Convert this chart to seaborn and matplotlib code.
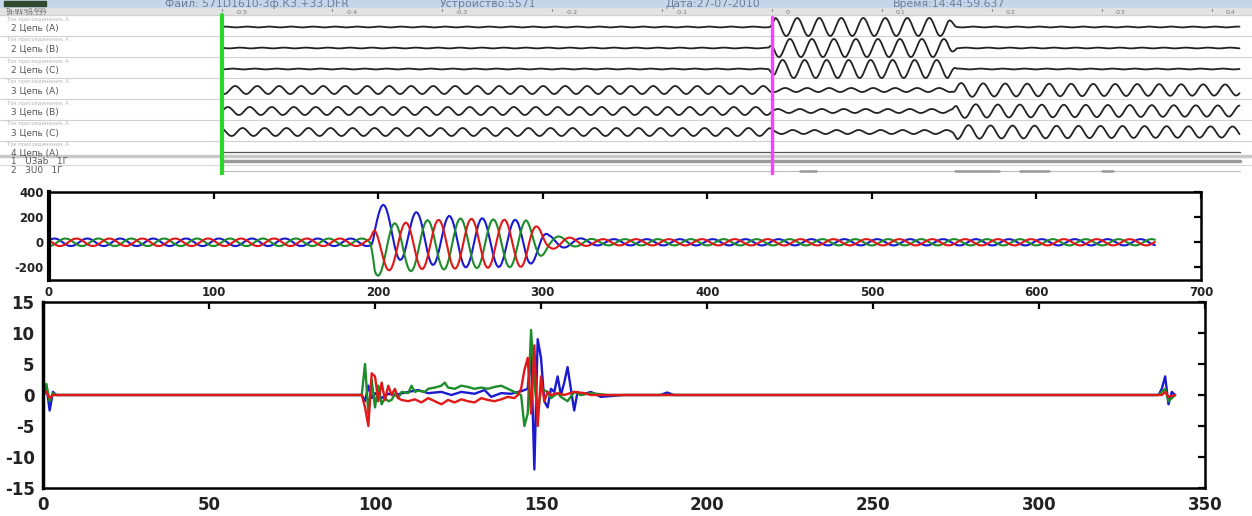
import numpy as np
import pandas as pd
import matplotlib
matplotlib.use("Agg")
import matplotlib.pyplot as plt
import seaborn as sns

sns.set_theme(style="white")
plt.rcParams['font.family'] = ['DejaVu Sans']
plt.rcParams['axes.unicode_minus'] = False

# ---------------------------------------------------------------- data
# --- top panel: oscillogram viewer (time in ms, 0 = green cursor)
top_title = ["Файл: 571D1610-3ф.КЗ.+33.DFR", "Устройство:5571",
             "Дата:27-07-2010", "Время:14:44:59.637"]
top_title_px = [165, 440, 665, 893]
top_hdr_left = ["Тк,мс=0.600", "14:44:59.137"]
top_tick_ms = [0, 100, 200, 300, 400, 500, 600, 700, 800, 900]
top_tick_lbl = ["-0.5", "-0.4", "-0.3", "-0.2", "-0.1", "0", "0.1", "0.2", "0.3", "0.4"]
top_rows = ["2 Цепь (A)", "2 Цепь (B)", "2 Цепь (C)",
            "3 Цепь (A)", "3 Цепь (B)", "3 Цепь (C)",
            "4 Цепь (A)", "1   U3ab   1Г", "2   3U0   1Г"]
top_row_sub = "Ток присоединения, А"
top_cursor_green_ms = 0
top_cursor_magenta_ms = 500
top_end_ms = 925
top_period_ms = 20
# envelope breakpoints (ms) and amplitudes (px)
top_c2_env_t = [0, 497, 503, 660, 668, 925]
top_c2_env_amp = [0.4, 0.4, 9.0, 9.0, 0.4, 0.4]
top_c2_peak_ms = [523.0, 516.3, 509.7]
top_c3_env_t = [0, 498, 502, 664, 668, 700, 925]
top_c3_env_amp = [4.0, 4.0, 2.0, 2.0, 7.0, 6.5, 5.5]
top_c3_peak_ms = [512.0, 505.3, 518.7]
top_3u0_bars_ms = [(525, 540), (666, 706), (725, 752), (800, 810)]

# --- middle chart: three-phase current (20 samples per cycle)
mid_last_sample = 672
mid_period = 20
mid_env_n = [0, 195, 198, 220, 250, 290, 298, 304, 318, 332, 672]
mid_A_amp = [30, 30, 200, 205, 200, 185, 120, 55, 35, 25, 25]
mid_A_dc = [0, 0, 115, 40, 0, -10, -10, 0, 0, 0, 0]
mid_B_amp = [30, 30, 200, 200, 200, 185, 120, 55, 35, 25, 25]
mid_B_dc = [0, 0, -70, -30, -10, -10, -5, 0, 0, 0, 0]
mid_C_amp = [30, 30, 170, 190, 200, 185, 120, 55, 35, 25, 25]
mid_C_dc = [0, 0, -60, -25, -10, -10, -5, 0, 0, 0, 0]
mid_peak_sample = {"A": 203.3, "B": 210.0, "C": 196.7}

# --- bottom chart: detail signal
bot_A_x = [0, 1, 2, 3, 4, 96, 97, 98, 99, 100, 102, 104, 106, 110, 113, 116, 120, 123,
           126, 130, 133, 135, 138, 141, 144, 146, 147, 148, 149, 150, 151, 152, 153,
           154, 155, 156, 157, 158, 159, 160, 161, 162, 165, 168, 175, 186, 188, 190,
           336, 337, 338, 339, 340, 341]
bot_A_y = [0, 1.5, -2.5, 0.5, 0, 0, -1, 1.5, -0.5, 0.3, -0.5, 0.2, 0, 0.5, 0.8, 0.3,
           0.5, 0, 0.5, 0.2, 0.8, -0.3, 0.3, 0.2, 0.6, 1, 7, -12, 9, 6, -1, -2, 1,
           0.5, 3, 0, 2, 4.5, 1, -2.5, 0.5, 0, 0.5, -0.3, 0, 0, 0.4, 0,
           0, 1, 3, -1.5, 0.5, 0]
bot_B_x = [0, 1, 2, 3, 4, 96, 97, 98, 99, 100, 101, 102, 103, 104, 105, 106, 107,
           108, 110, 111, 112, 113, 115, 116, 118, 120, 121, 122, 124, 126, 128, 130,
           132, 134, 136, 138, 140, 142, 144, 145, 146, 147, 148, 149, 150, 152, 153,
           155, 156, 158, 160, 162, 165, 170, 336, 338, 339, 341]
bot_B_y = [0, 1.8, -1, 0.3, 0, 0, 5, -3, 2.5, -2, 1.5, -1.5, -0.5, -1, -0.8, 0.2,
           -0.5, 0.5, 0.3, 1.5, 0.5, 0.7, 0.5, 1.0, 1.2, 1.5, 2.0, 1.2, 1.0, 1.5,
           1.3, 1.0, 1.2, 1.0, 1.3, 1.5, 1.0, 0.5, 0, -5, -3, 10.5, 2, -3, 1, 0.5,
           -0.5, 0.3, -0.3, -1, 0.5, 0, 0.3, 0, 0, 1, -1, 0]
bot_C_x = [0, 1, 2, 3, 96, 97, 98, 99, 100, 101, 102, 103, 104, 105, 106, 107, 108,
           110, 112, 114, 116, 118, 120, 122, 124, 126, 128, 130, 132, 134, 136, 138,
           140, 142, 143, 144, 145, 146, 147, 148, 149, 150, 151, 152, 153, 155, 157,
           160, 163, 165, 337, 338, 339, 341]
bot_C_y = [0, 0.5, -0.5, 0, 0, -2, -5, 3.5, 3, -1, 2, -0.8, 1.5, 0, 1, -0.5, -0.8,
           -1, -0.7, -1.2, -0.5, -1.0, -1.5, -0.8, -1.2, -0.7, -1.0, -1.2, -0.5,
           -0.8, -1, -0.7, -0.3, -0.5, 0, 1, 4, 6, -3, 8, -5, 3, -1, 0.5, 0, 0.3, 0,
           0.5, 0.3, 0, 0, 0.5, -0.3, 0]

phase_colors = {"A": "#1a1ad0", "B": "#1e8c2a", "C": "#e01818"}

# ---------------------------------------------------------------- figure
W, H = 1252, 516
fig = plt.figure(figsize=(W / 100, H / 100), dpi=100)


def px_axes(x0, y0, x1, y1):
    return fig.add_axes([x0 / W, 1 - y1 / H, (x1 - x0) / W, (y1 - y0) / H])


# ================= top panel =================
axT = px_axes(0, 0, W, 175)
px_per_ms = 1.1
x_green = 222
axT.set_xlim(-x_green / px_per_ms, (W - x_green) / px_per_ms)
axT.set_ylim(175, 0)
axT.axis("off")

# header bands
axT.axhspan(0, 7.5, color="#c6d6ea", zorder=0)
axT.axhspan(7.5, 15, color="#e2e2e2", zorder=0)
axT.add_patch(plt.Rectangle((-x_green / px_per_ms + 4, 1), 38, 5.5,
                            color="#2f4a2f", zorder=1))
for s, xp in zip(top_title, top_title_px):
    axT.text((xp - x_green) / px_per_ms, 4, s, fontsize=7.8, color="#6c7d99",
             va="center", ha="left")
axT.text(-x_green / px_per_ms + 5, 9.8, top_hdr_left[0], fontsize=4.5,
         color="#666", va="center")
axT.text(-x_green / px_per_ms + 5, 13.5, top_hdr_left[1], fontsize=4.5,
         color="#666", va="center")
for tm, lb in zip(top_tick_ms, top_tick_lbl):
    axT.plot([tm, tm], [9, 11], color="#888", lw=0.8)
    axT.text(tm + 12, 12, lb, fontsize=4.5, color="#777", va="center")

# row separators
row_base = [27, 48, 69, 90, 111, 132, 152, 161, 170]
sep_y = [15, 36, 57, 78, 99, 120, 141]
for y in sep_y:
    axT.axhline(y, color="#d0d0d0", lw=0.8, zorder=1)
axT.axhline(156.5, color="#c8c8c8", lw=2.5, zorder=1)
axT.axhline(165.5, color="#d8d8d8", lw=0.8, zorder=1)

for i, name in enumerate(top_rows):
    axT.text(-x_green / px_per_ms + 10, row_base[i] + 1, name, fontsize=6.4,
             color="#555", va="center")
    if i < 7:
        axT.text(-x_green / px_per_ms + 6, sep_y[i] + 4, top_row_sub,
                 fontsize=3.8, color="#b5b5b5", va="center")

t_top = np.arange(0, top_end_ms + 0.5, 0.5)
rows = []
for i in range(3):
    amp = np.interp(t_top, top_c2_env_t, top_c2_env_amp)
    sig = amp * np.cos(2 * np.pi * (t_top - top_c2_peak_ms[i]) / top_period_ms)
    rows.append(pd.DataFrame({"t": t_top, "y": row_base[i] - sig, "row": i}))
for i in range(3):
    amp = np.interp(t_top, top_c3_env_t, top_c3_env_amp)
    sig = amp * np.cos(2 * np.pi * (t_top - top_c3_peak_ms[i]) / top_period_ms)
    rows.append(pd.DataFrame({"t": t_top, "y": row_base[3 + i] - sig, "row": 3 + i}))
df_top = pd.concat(rows)
for r, g in df_top.groupby("row"):
    sns.lineplot(data=g, x="t", y="y", ax=axT, color="#222222", lw=1.3,
                 estimator=None, sort=False, legend=False)
axT.plot([0, top_end_ms], [row_base[6]] * 2, color="#555", lw=0.9)
axT.plot([0, top_end_ms], [row_base[7]] * 2, color="#9a9a9a", lw=2.5)
axT.plot([0, top_end_ms], [row_base[8] + 1] * 2, color="#bbbbbb", lw=0.8)
for a, b in top_3u0_bars_ms:
    axT.plot([a, b], [row_base[8] + 1.5] * 2, color="#999", lw=1.8)
axT.plot([top_cursor_green_ms] * 2, [15, 175], color="#2bd62b", lw=3, zorder=5)
axT.plot([top_cursor_magenta_ms] * 2, [17, 175], color="#ff3cff", lw=2.4, zorder=5)
axT.set_xlabel("")
axT.set_ylabel("")


def style_axes(ax, fs, lw_left):
    for side in ["top", "right", "bottom"]:
        ax.spines[side].set_linewidth(1.8)
        ax.spines[side].set_color("black")
    ax.spines["left"].set_linewidth(lw_left)
    ax.spines["left"].set_color("black")
    ax.tick_params(direction="in", length=5, width=1.6, top=True, right=True,
                   labelsize=fs, colors="black", pad=4)
    for lab in ax.get_xticklabels() + ax.get_yticklabels():
        lab.set_fontweight("bold")
        lab.set_color("#222")
    ax.set_xlabel("")
    ax.set_ylabel("")


# ================= middle chart =================
axM = px_axes(49, 192, 1201, 280)
n = np.arange(0, mid_last_sample + 1)
parts = []
for ph, amp_l, dc_l in [("A", mid_A_amp, mid_A_dc), ("B", mid_B_amp, mid_B_dc),
                        ("C", mid_C_amp, mid_C_dc)]:
    amp = np.interp(n, mid_env_n, amp_l)
    dc = np.interp(n, mid_env_n, dc_l)
    y = dc + amp * np.cos(2 * np.pi * (n - mid_peak_sample[ph]) / mid_period)
    parts.append(pd.DataFrame({"n": n, "y": y, "phase": ph}))
df_mid = pd.concat(parts)
sns.lineplot(data=df_mid, x="n", y="y", hue="phase", palette=phase_colors,
             hue_order=["A", "B", "C"], ax=axM, lw=1.5, estimator=None,
             sort=False, legend=False)
axM.set_xlim(0, 700)
axM.set_ylim(-300, 400)
axM.set_xticks(range(0, 701, 100))
axM.set_yticks([-200, 0, 200, 400])
style_axes(axM, 8.5, 3)

# ================= bottom chart =================
axB = px_axes(43, 302, 1205, 488)
df_bot = pd.concat([
    pd.DataFrame({"x": bot_A_x, "y": bot_A_y, "phase": "A"}),
    pd.DataFrame({"x": bot_B_x, "y": bot_B_y, "phase": "B"}),
    pd.DataFrame({"x": bot_C_x, "y": bot_C_y, "phase": "C"}),
])
sns.lineplot(data=df_bot, x="x", y="y", hue="phase", palette=phase_colors,
             hue_order=["A", "B", "C"], ax=axB, lw=1.7, estimator=None,
             sort=False, legend=False)
axB.set_xlim(0, 350)
axB.set_ylim(-15, 15)
axB.set_xticks(range(0, 351, 50))
axB.set_yticks(range(-15, 16, 5))
style_axes(axB, 12, 2.5)
axB.tick_params(pad=6)

fig.savefig("out.png", dpi=100, facecolor="white")
